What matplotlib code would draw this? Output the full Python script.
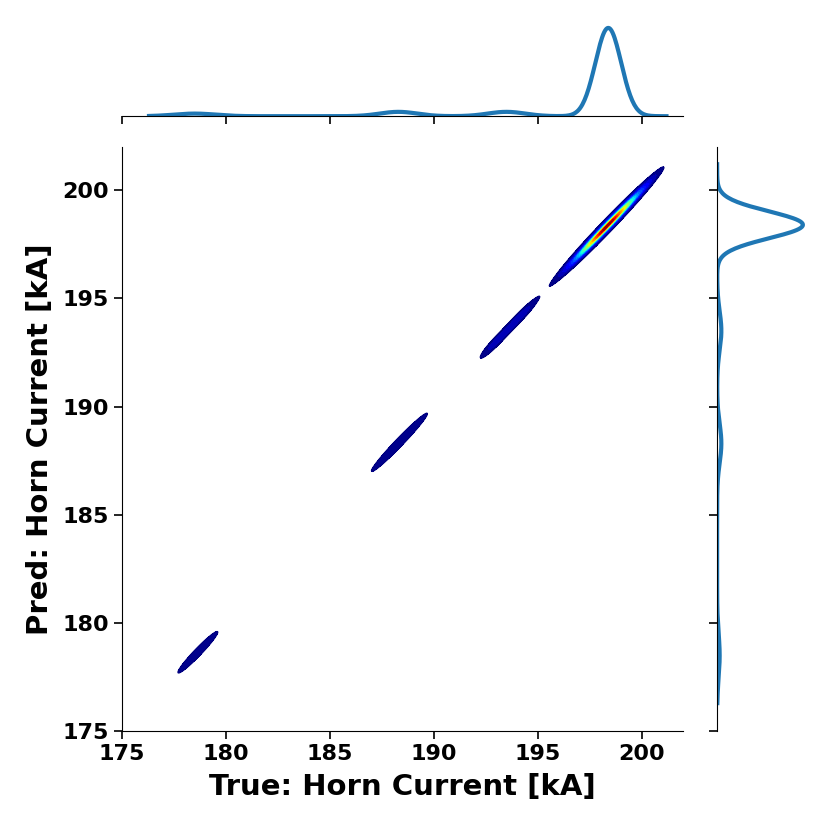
import numpy as np
import matplotlib
matplotlib.use('Agg')
import matplotlib.pyplot as plt

# lumps of the joint density along the diagonal (true vs predicted horn current, kA)
centers = [178.65, 188.35, 193.0, 194.2, 198.35, 198.35]
weights = [0.066, 0.095, 0.047, 0.047, 0.448, 0.317]
along_sd = [0.88, 1.15, 0.55, 0.55, 1.25, 0.8]
across_sd = [0.22, 0.22, 0.18, 0.18, 0.19, 0.09]

# bumps of the marginal kde curves
marg_centers = [178.5, 188.3, 193.5, 198.4]
marg_weights = [0.04, 0.06, 0.06, 0.84]
marg_sd = [1.0, 0.9, 0.9, 0.62]

ticks = [175, 180, 185, 190, 195, 200]
lims = (175, 202)
curve_range = (176.3, 201.2)
n_levels = 33

plt.rcParams['font.weight'] = 'bold'
plt.rcParams['axes.labelweight'] = 'bold'

# joint density on a grid
g = np.linspace(lims[0], lims[1], 1000)
X, Y = np.meshgrid(g, g)
U = (X + Y) / 2
V = Y - X
Z = np.zeros_like(X)
for c, w, sa, sc in zip(centers, weights, along_sd, across_sd):
    Z += w / (2 * np.pi * sa * sc) * np.exp(-0.5 * ((U - c) / sa) ** 2 - 0.5 * (V / sc) ** 2)

# marginal density
m = np.linspace(curve_range[0], curve_range[1], 500)
dens = np.zeros_like(m)
for c, w, s in zip(marg_centers, marg_weights, marg_sd):
    dens += w / (s * np.sqrt(2 * np.pi)) * np.exp(-0.5 * ((m - c) / s) ** 2)

fig = plt.figure(figsize=(8.3, 8.3), dpi=100)
ax = fig.add_axes([0.147, 0.119, 0.676, 0.704])
ax_top = fig.add_axes([0.147, 0.86, 0.676, 0.14], sharex=ax)
ax_right = fig.add_axes([0.864, 0.119, 0.136, 0.704], sharey=ax)

levels = np.linspace(0, Z.max(), n_levels + 1)[1:]
ax.contourf(X, Y, Z, levels=levels, cmap='jet')
ax.contour(X, Y, Z, levels=levels[:1], colors=['#000080'], linewidths=1.0)
ax.set_xlim(lims)
ax.set_ylim(lims)
ax.set_xticks(ticks)
ax.set_yticks(ticks)
ax.tick_params(labelsize=16, length=6, width=1.2)
ax.set_xlabel('True: Horn Current [kA]', fontsize=21, labelpad=6)
ax.set_ylabel('Pred: Horn Current [kA]', fontsize=21, labelpad=6)
for s in ['top', 'right']:
    ax.spines[s].set_visible(False)

ax_top.plot(m, dens, color='#1f77b4', lw=3)
ax_top.set_ylim(0, dens.max() / 0.76)
ax_top.tick_params(labelbottom=False, left=False, labelleft=False, length=6, width=1.2)
for s in ['top', 'right', 'left']:
    ax_top.spines[s].set_visible(False)

ax_right.plot(dens, m, color='#1f77b4', lw=3)
ax_right.set_xlim(0, dens.max() / 0.76)
ax_right.tick_params(labelleft=False, bottom=False, labelbottom=False, length=6, width=1.2)
for s in ['top', 'right', 'bottom']:
    ax_right.spines[s].set_visible(False)

fig.savefig('out.png', dpi=100)
